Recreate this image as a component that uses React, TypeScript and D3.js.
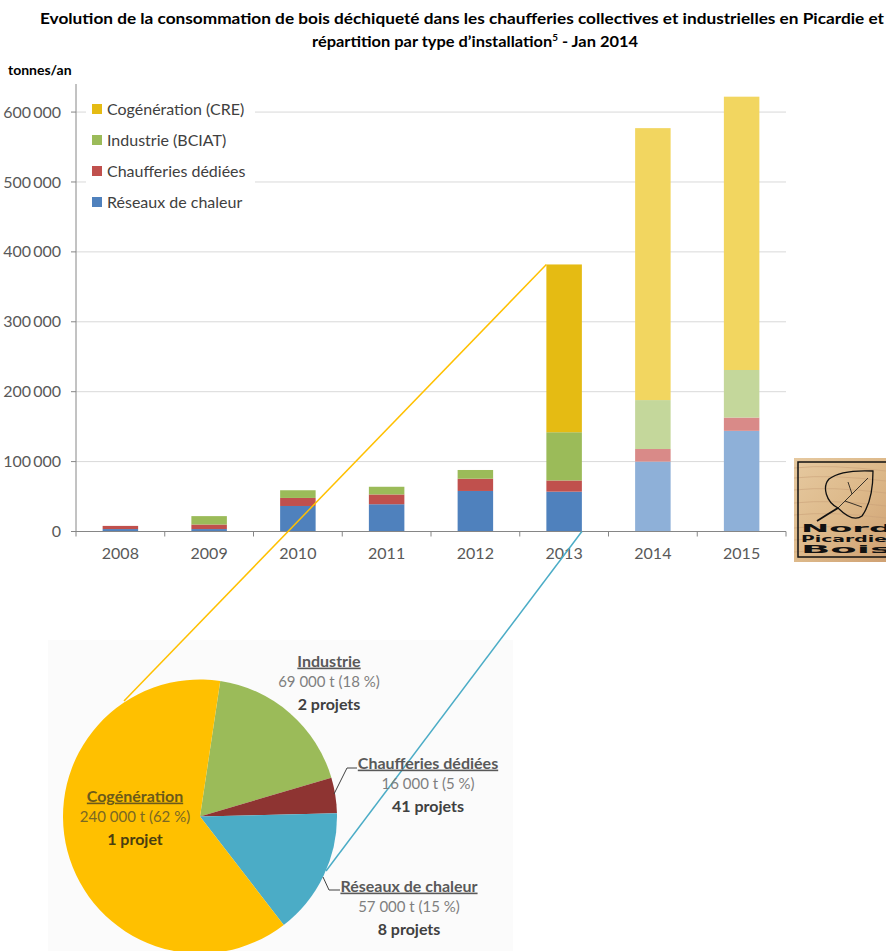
import React from 'react';
import * as d3 from 'd3';

const years = ['2008', '2009', '2010', '2011', '2012', '2013', '2014', '2015'];
const reseaux = [3500, 3500, 36500, 39000, 58000, 57000, 100000, 144000];
const chaufferies = [4500, 6500, 11500, 14000, 17500, 16000, 18000, 19000];
const industrie = [0, 12000, 11000, 11000, 12500, 69000, 70000, 68000];
const cogeneration = [0, 0, 0, 0, 0, 240000, 389000, 391000];
const projected = [false, false, false, false, false, false, true, true];

const seriesKeys = ['reseaux', 'chaufferies', 'industrie', 'cogeneration'];
const legendLabels = ['Cogénération (CRE)', 'Industrie (BCIAT)', 'Chaufferies dédiées', 'Réseaux de chaleur'];
const legendKeys = ['cogeneration', 'industrie', 'chaufferies', 'reseaux'];
const yTicks = [0, 100000, 200000, 300000, 400000, 500000, 600000];

const pieNames = ['Industrie', 'Chaufferies dédiées', 'Réseaux de chaleur', 'Cogénération'];
const pieValues = [69000, 16000, 57000, 240000];
const piePercents = [18, 5, 15, 62];
const pieProjects = ['2 projets', '41 projets', '8 projets', '1 projet'];

const darkColors: Record<string, string> = {
  reseaux: '#4F81BD', chaufferies: '#C0504D', industrie: '#9BBB59', cogeneration: '#E5BB13',
};
const lightColors: Record<string, string> = {
  reseaux: '#8EB0D8', chaufferies: '#D98A88', industrie: '#C4D79B', cogeneration: '#F2D660',
};
const pieColors = ['#9BBB59', '#8E3432', '#4BACC6', '#FFC000'];

const FONT = 'Lato, "Open Sans", sans-serif';

function fmt(v: number) {
  const s = d3.format(',')(v);
  return s.replace(/,/g, '\u2009');
}

export default function App() {
  const x = d3.scaleBand<string>().domain(years).range([76, 786]).paddingInner(0.6).paddingOuter(0.3);
  const y = d3.scaleLinear().domain([0, 640000]).range([531.5, 84.1]);
  const step = x.step();

  const table = years.map((yr, i) => ({
    year: yr,
    reseaux: reseaux[i],
    chaufferies: chaufferies[i],
    industrie: industrie[i],
    cogeneration: cogeneration[i],
    projected: projected[i],
  }));
  const stacked = d3.stack<any>().keys(seriesKeys)(table);

  // pie
  const cx = 200, cy = 816.5, r = 137;
  const pie = d3.pie<number>().sort(null).startAngle((8.5 * Math.PI) / 180).endAngle((8.5 * Math.PI) / 180 + 2 * Math.PI);
  const arcs = pie(pieValues);
  const arcGen = d3.arc<any>().innerRadius(0).outerRadius(r);

  const i2013 = years.indexOf('2013');
  const total2013 = reseaux[i2013] + chaufferies[i2013] + industrie[i2013] + cogeneration[i2013];
  const bx0 = x('2013')!;
  const bx1 = bx0 + x.bandwidth();

  const labelPos = [
    { x: 329, y: 661, c1: '#595959', c2: '#7F7F7F', c3: '#404040' },
    { x: 428, y: 763, c1: '#595959', c2: '#7F7F7F', c3: '#404040' },
    { x: 409, y: 886, c1: '#595959', c2: '#7F7F7F', c3: '#404040' },
    { x: 135, y: 796, c1: '#6B5A1A', c2: '#7A6824', c3: '#4A3E10' },
  ];

  return (
    <svg width={886} height={951} style={{ position: 'absolute', left: 0, top: 0, background: '#fff' }} fontFamily={FONT}>
      {/* title */}
      <text x={40} y={24} fontSize={15} fontWeight={700} fill="#000" textLength={844} lengthAdjust="spacingAndGlyphs">
        Evolution de la consommation de bois déchiqueté dans les chaufferies collectives et industrielles en Picardie et
      </text>
      <text x={312} y={47} fontSize={15} fontWeight={700} fill="#000" textLength={326} lengthAdjust="spacingAndGlyphs">
        répartition par type d’installation<tspan fontSize={9} dy={-6}>5</tspan><tspan dy={6}> - Jan 2014</tspan>
      </text>
      <text x={8} y={75} fontSize={14} fontWeight={700} fill="#000">tonnes/an</text>

      {/* gridlines */}
      {yTicks.filter((t) => t > 0).map((t) => (
        <line key={t} x1={76} x2={786} y1={y(t)} y2={y(t)} stroke="#D9D9D9" strokeWidth={1} />
      ))}

      {/* legend background */}
      <rect x={86} y={94} width={169} height={122} fill="#fff" />

      {/* y axis */}
      <line x1={76} x2={76} y1={84} y2={y(0)} stroke="#868686" />
      {yTicks.map((t) => (
        <g key={t}>
          <line x1={71} x2={76} y1={y(t)} y2={y(t)} stroke="#868686" />
          <text x={61} y={y(t)} dy="0.35em" textAnchor="end" fontSize={16} fill="#595959">{fmt(t)}</text>
        </g>
      ))}

      {/* bars */}
      {stacked.map((s) => (
        <g key={s.key}>
          {s.map((d: any, i: number) => {
            const h = y(d[0]) - y(d[1]);
            if (h <= 0) return null;
            const col = d.data.projected ? lightColors[s.key] : darkColors[s.key];
            return <rect key={i} x={x(d.data.year)} y={y(d[1])} width={x.bandwidth()} height={h} fill={col} />;
          })}
        </g>
      ))}

      {/* x axis */}
      <line x1={76} x2={786} y1={y(0)} y2={y(0)} stroke="#868686" />
      {d3.range(years.length + 1).map((i) => (
        <line key={i} x1={76 + i * step} x2={76 + i * step} y1={y(0)} y2={y(0) + 5} stroke="#868686" />
      ))}
      {years.map((yr) => (
        <text key={yr} x={x(yr)! + x.bandwidth() / 2} y={553} dy="0.35em" textAnchor="middle" fontSize={16} fill="#595959">{yr}</text>
      ))}

      {/* legend */}
      {legendKeys.map((k, i) => (
        <g key={k}>
          <rect x={92} y={104 + i * 31} width={10} height={10} fill={darkColors[k]} />
          <text x={107} y={109 + i * 31} dy="0.35em" fontSize={16} fill="#404040">{legendLabels[i]}</text>
        </g>
      ))}

      {/* logo */}
      <defs>
        <linearGradient id="wood" x1="0" y1="0" x2="1" y2="1">
          <stop offset="0" stopColor="#E6C9A0" />
          <stop offset="0.5" stopColor="#DDB98A" />
          <stop offset="1" stopColor="#CFA072" />
        </linearGradient>
        <clipPath id="logoClip"><rect x={794} y={458} width={92} height={104} /></clipPath>
      </defs>
      <g clipPath="url(#logoClip)">
        <rect x={794} y={458} width={96} height={104} fill="url(#wood)" />
        {[468, 478, 490, 503, 515, 528, 540, 552].map((yy, i) => (
          <path key={i} d={`M794 ${yy} Q 830 ${yy - 4} 886 ${yy + 3}`} stroke="#C9A27A" strokeWidth={1} fill="none" opacity={0.6} />
        ))}
        <rect x={798} y={462} width={96} height={95} fill="none" stroke="#111" strokeWidth={1.5} />
        <path d="M838 508 C 826 502 822 487 829 479 C 838 472 852 470 873 471 C 873 490 870 505 862 516 C 854 522 845 515 838 508 Z" fill="none" stroke="#111" strokeWidth={1.3} />
        <path d="M838 508 L 868 478 M845 501 L 862 507 M852 494 L 848 482" fill="none" stroke="#111" strokeWidth={0.8} />
        <path d="M838 508 Q 828 514 817 521" fill="none" stroke="#111" strokeWidth={1.8} />
        <text x={801} y={532} fontSize={11} fontWeight={900} fontFamily='"DejaVu Sans", sans-serif' fill="#111" textLength={92} lengthAdjust="spacingAndGlyphs">Nord</text>
        <text x={801} y={542} fontSize={8} fontWeight={900} fontFamily='"DejaVu Sans", sans-serif' fill="#111" textLength={86} lengthAdjust="spacingAndGlyphs">Picardie</text>
        <text x={801} y={553} fontSize={10} fontWeight={900} fontFamily='"DejaVu Sans", sans-serif' fill="#111" textLength={92} lengthAdjust="spacingAndGlyphs">Bois</text>
      </g>

      {/* pie background box */}
      <rect x={48} y={640} width={465} height={311} fill="#FBFBFB" />

      {/* connector lines */}
      <line x1={bx0} y1={y(total2013)} x2={124} y2={701} stroke="#FFC000" strokeWidth={1.5} />
      <line x1={bx1} y1={y(0)} x2={326} y2={871} stroke="#4BACC6" strokeWidth={1.5} />

      {/* pie */}
      <g transform={`translate(${cx},${cy})`}>
        {arcs.map((a, i) => (
          <path key={i} d={arcGen(a) as string} fill={pieColors[i]} />
        ))}
      </g>

      {/* leader lines */}
      <polyline points="334,794 347,768 357,768" fill="none" stroke="#404040" strokeWidth={1} />
      <polyline points="323,877 329,890 340,890" fill="none" stroke="#404040" strokeWidth={1} />

      {/* pie labels */}
      {pieNames.map((n, i) => {
        const p = labelPos[i];
        return (
          <g key={n} textAnchor="middle">
            <text x={p.x} y={p.y} dy="0.35em" fontSize={16} fontWeight={700} fill={p.c1} textDecoration="underline">{n}</text>
            <text x={p.x} y={p.y + 21} dy="0.35em" fontSize={15} fill={p.c2}>{`${fmt(pieValues[i]).replace('\u2009', ' ')}  t (${piePercents[i]} %)`}</text>
            <text x={p.x} y={p.y + 43} dy="0.35em" fontSize={16} fontWeight={700} fill={p.c3}>{pieProjects[i]}</text>
          </g>
        );
      })}
    </svg>
  );
}
